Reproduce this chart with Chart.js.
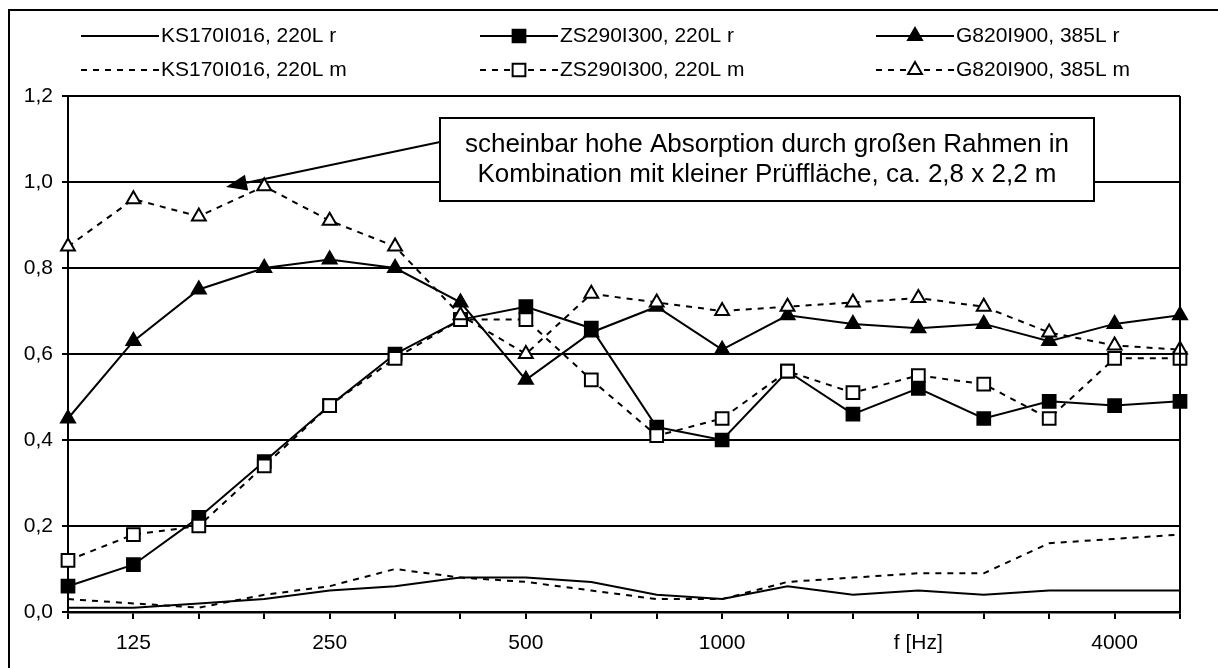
<!DOCTYPE html>
<html><head><meta charset="utf-8">
<script src="https://cdn.jsdelivr.net/npm/chart.js@4/dist/chart.umd.min.js"></script>
<style>html,body{margin:0;padding:0;background:#fff;}canvas{display:block;}</style>
</head><body>
<canvas id="c" width="1218" height="668"></canvas>
<script>
// ---- data ----
const categories = ['100','125','160','200','250','315','400','500','630','800','1000','1250','1600','2000','2500','3150','4000','5000'];
const tickLabels = ['', '125', '', '', '250', '', '', '500', '', '', '1000', '', '', 'f [Hz]', '', '', '4000', ''];
const yMin = 0, yMax = 1.2, yStep = 0.2;
const seriesLabels = ['KS170I016, 220L r','ZS290I300, 220L r','G820I900, 385L r','KS170I016, 220L m','ZS290I300, 220L m','G820I900, 385L m'];
const ksR = [0.01,0.01,0.02,0.03,0.05,0.06,0.08,0.08,0.07,0.04,0.03,0.06,0.04,0.05,0.04,0.05,0.05,0.05];
const zsR = [0.06,0.11,0.22,0.35,0.48,0.60,0.68,0.71,0.66,0.43,0.40,0.56,0.46,0.52,0.45,0.49,0.48,0.49];
const gR  = [0.45,0.63,0.75,0.80,0.82,0.80,0.72,0.54,0.65,0.71,0.61,0.69,0.67,0.66,0.67,0.63,0.67,0.69];
const ksM = [0.03,0.02,0.01,0.04,0.06,0.10,0.08,0.07,0.05,0.03,0.03,0.07,0.08,0.09,0.09,0.16,0.17,0.18];
const zsM = [0.12,0.18,0.20,0.34,0.48,0.59,0.68,0.68,0.54,0.41,0.45,0.56,0.51,0.55,0.53,0.45,0.59,0.59];
const gM  = [0.85,0.96,0.92,0.99,0.91,0.85,0.69,0.60,0.74,0.72,0.70,0.71,0.72,0.73,0.71,0.65,0.62,0.61];
const annotationLines = ['scheinbar hohe Absorption durch großen Rahmen in', 'Kombination mit kleiner Prüffläche, ca. 2,8 x 2,2 m'];

// ---- styles ----
const FONT = '"Liberation Sans", Arial, Helvetica, sans-serif';
const TICK_SIZE = 21;
const DASH = [6, 6];
const styles = [
  {dash: [], marker: null, fill: '#000'},
  {dash: [], marker: 'rect', fill: '#000'},
  {dash: [], marker: 'triangle', fill: '#000'},
  {dash: DASH, marker: null, fill: '#fff'},
  {dash: DASH, marker: 'rect', fill: '#fff'},
  {dash: DASH, marker: 'triangle', fill: '#fff'}
];
const seriesData = [ksR, zsR, gR, ksM, zsM, gM];
const markerRadius = {rect: 9, triangle: 8};

function drawMarker(ctx, style, x, y, fill) {
  if (!style) return;
  const r = markerRadius[style];
  ctx.save();
  ctx.setLineDash([]);
  ctx.lineWidth = 2;
  ctx.strokeStyle = '#000';
  ctx.fillStyle = fill;
  ctx.beginPath();
  if (style === 'rect') {
    const s = r * Math.SQRT1_2;
    ctx.rect(x - s, y - s, 2 * s, 2 * s);
  } else {
    for (let k = 0; k < 3; k++) {
      const a = k * 2 * Math.PI / 3;
      const px = x + Math.sin(a) * r, py = y - Math.cos(a) * r;
      if (k === 0) ctx.moveTo(px, py); else ctx.lineTo(px, py);
    }
    ctx.closePath();
  }
  ctx.fill();
  ctx.stroke();
  ctx.restore();
}

const framePlugin = {
  id: 'frame',
  beforeDraw(chart) {
    const ctx = chart.ctx;
    ctx.save();
    ctx.fillStyle = '#fff';
    ctx.fillRect(0, 0, chart.width, chart.height);
    ctx.strokeStyle = '#000';
    ctx.lineWidth = 2;
    ctx.strokeRect(9, 10, chart.width + 20, chart.height + 20);
    ctx.restore();
  },
  afterDraw(chart) {
    const ctx = chart.ctx, a = chart.chartArea;
    ctx.save();
    ctx.strokeStyle = '#000';
    ctx.lineWidth = 2;
    ctx.beginPath();
    ctx.moveTo(a.right, a.top);
    ctx.lineTo(a.right, a.bottom);
    ctx.stroke();
    ctx.restore();
  }
};

const legendPlugin = {
  id: 'customLegend',
  afterDraw(chart) {
    const ctx = chart.ctx;
    const cols = [81, 480, 876], rows = [36, 70], len = 78;
    ctx.save();
    ctx.font = '21px ' + FONT;
    ctx.fillStyle = '#000';
    ctx.textBaseline = 'middle';
    ctx.textAlign = 'left';
    seriesLabels.forEach((lab, i) => {
      const x = cols[i % 3], y = rows[Math.floor(i / 3)];
      const st = styles[i];
      ctx.save();
      ctx.strokeStyle = '#000';
      ctx.lineWidth = 2;
      ctx.setLineDash(st.dash);
      ctx.beginPath();
      ctx.moveTo(x, y);
      ctx.lineTo(x + len, y);
      ctx.stroke();
      ctx.restore();
      drawMarker(ctx, st.marker, x + len / 2, y, st.fill);
      ctx.fillText(lab, x + len + 2, y);
    });
    ctx.restore();
  }
};

const annotationPlugin = {
  id: 'annot',
  afterDatasetsDraw(chart) {
    const ctx = chart.ctx;
    const box = {l: 440, r: 1094, t: 118, b: 201};
    const from = {x: box.l, y: 142}, tip = {x: 226, y: 187};
    ctx.save();
    ctx.strokeStyle = '#000';
    ctx.fillStyle = '#000';
    ctx.lineWidth = 2;
    const dx = from.x - tip.x, dy = from.y - tip.y, L = Math.hypot(dx, dy);
    const ux = dx / L, uy = dy / L, hl = 21, hw = 8;
    const bx = tip.x + ux * hl, by = tip.y + uy * hl;
    ctx.beginPath();
    ctx.moveTo(from.x, from.y);
    ctx.lineTo(bx, by);
    ctx.stroke();
    ctx.beginPath();
    ctx.moveTo(tip.x, tip.y);
    ctx.lineTo(bx - uy * hw, by + ux * hw);
    ctx.lineTo(bx + uy * hw, by - ux * hw);
    ctx.closePath();
    ctx.fill();
    ctx.fillStyle = '#fff';
    ctx.fillRect(box.l, box.t, box.r - box.l, box.b - box.t);
    ctx.strokeRect(box.l, box.t, box.r - box.l, box.b - box.t);
    ctx.fillStyle = '#000';
    ctx.font = '26px ' + FONT;
    ctx.textAlign = 'center';
    ctx.textBaseline = 'alphabetic';
    const cx = (box.l + box.r) / 2;
    ctx.fillText(annotationLines[0], cx, 152);
    ctx.fillText(annotationLines[1], cx, 182);
    ctx.restore();
  }
};

const datasets = seriesData.map((d, i) => ({
  label: seriesLabels[i],
  data: d,
  borderColor: '#000',
  borderWidth: 2,
  borderDash: styles[i].dash,
  pointStyle: styles[i].marker || 'circle',
  pointRadius: styles[i].marker ? markerRadius[styles[i].marker] : 0,
  pointBackgroundColor: styles[i].fill,
  pointBorderColor: '#000',
  pointBorderWidth: 2,
  tension: 0,
  fill: false,
  clip: false,
  order: seriesData.length - i
}));

new Chart(document.getElementById('c'), {
  type: 'line',
  data: {labels: categories, datasets},
  options: {
    responsive: false,
    animation: false,
    events: [],
    devicePixelRatio: 1,
    layout: {padding: {left: 0, right: 38, top: 96, bottom: 0}},
    plugins: {legend: {display: false}, tooltip: {enabled: false}},
    scales: {
      x: {
        type: 'category',
        offset: false,
        grid: {display: true, drawOnChartArea: false, drawTicks: true, tickLength: 7, color: '#000', lineWidth: 2},
        border: {display: true, color: '#000', width: 2.5},
        ticks: {autoSkip: false, maxRotation: 0, minRotation: 0, padding: 12, color: '#000',
          font: {family: FONT, size: TICK_SIZE}, callback: (v, i) => tickLabels[i]},
        afterFit: s => { s.height = 56; }
      },
      y: {
        min: yMin, max: yMax,
        ticks: {stepSize: yStep, padding: 9, color: '#000', font: {family: FONT, size: TICK_SIZE},
          callback: v => Number(v).toFixed(1).replace('.', ',')},
        grid: {color: '#000', lineWidth: 2, tickLength: 6, drawTicks: true},
        border: {display: true, color: '#000', width: 2},
        afterFit: s => { s.width = 68; }
      }
    }
  },
  plugins: [framePlugin, legendPlugin, annotationPlugin]
});
</script>
</body></html>
